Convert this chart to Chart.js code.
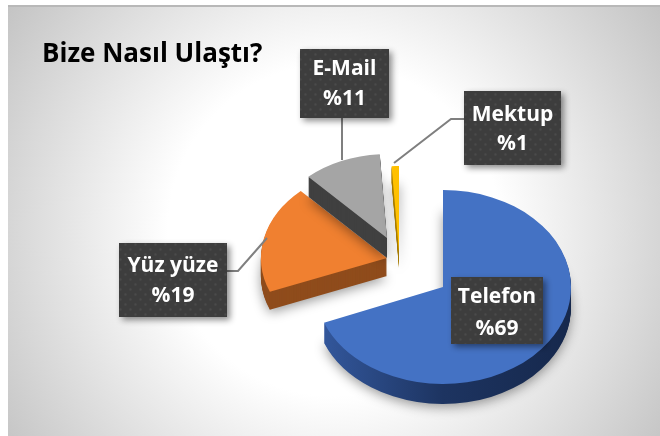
<!DOCTYPE html>
<html>
<head>
<meta charset="utf-8">
<title>Bize Nasıl Ulaştı?</title>
<script src="https://cdn.jsdelivr.net/npm/chart.js@4"></script>
<style>
  html, body { margin: 0; padding: 0; background: #fff; overflow: hidden; }
  #frame {
    position: absolute; left: 8px; top: 5px; width: 652px; height: 431px;
    background: radial-gradient(circle farthest-corner at 50% 52%, #fff 42%, #c4c4c4 100%);
    border-top: 2px solid #b8b8b8;
    box-sizing: border-box;
  }
  canvas { display: block; }
</style>
</head>
<body>
<div id="frame"><canvas id="pie" width="652" height="429"></canvas></div>
<script>
// Veriler
var titleText = 'Bize Nasıl Ulaştı?';
var categories = ['Telefon', 'Yüz yüze', 'E-Mail', 'Mektup'];
var percents = [69, 19, 11, 1];
var topColors = ['#4472c4', '#f08030', '#a5a5a5', '#ffc000'];
var sideColors = ['#2a4a85', '#8f4c1c', '#404040', '#a67c00'];

// Her dilimin ekrandaki yeri (canvas koordinatı): uç noktası ve yarıçapları
var sliceViews = [
  { x: 435, y: 280, rx: 128, ry: 97, depth: 20 },
  { x: 379, y: 251, rx: 126, ry: 92, depth: 18 },
  { x: 379, y: 231, rx: 115, ry: 84, depth: 20 },
  { x: 391, y: 245, rx: 118, ry: 86, depth: 16 }
];

// Etiket kutuları, metin yükseklikleri ve kılavuz çizgileri
var labelBoxes = [
  { x: 443, y: 270, w: 92, h: 67, t1: 20, t2: 52, line: null },
  { x: 111, y: 236, w: 108, h: 74, t1: 23, t2: 53, line: [[219, 264], [230, 264], [259, 231]] },
  { x: 292, y: 42, w: 89, h: 69, t1: 20, t2: 50, line: [[334, 111], [334, 153]] },
  { x: 456, y: 84, w: 97, h: 74, t1: 24, t2: 53, line: [[456, 112], [443, 112], [386, 156]] }
];

function dotPattern() {
  var c = document.createElement('canvas');
  c.width = 10; c.height = 10;
  var p = c.getContext('2d');
  p.fillStyle = '#3d3d3d';
  p.fillRect(0, 0, 10, 10);
  p.fillStyle = '#4a4a4a';
  p.beginPath();
  p.arc(2.5, 2.5, 1.3, 0, Math.PI * 2);
  p.arc(7.5, 7.5, 1.3, 0, Math.PI * 2);
  p.fill();
  return c;
}

function sideFill(ctx, el, i) {
  if (i !== 0) return sideColors[i];
  var r = el.outerRadius;
  var g = ctx.createLinearGradient(el.x - r, 0, el.x + r, 0);
  g.addColorStop(0, '#34599f');
  g.addColorStop(0.5, '#1d3461');
  g.addColorStop(1, '#16284c');
  return g;
}

// Dilimleri basık ve derinlikli çizen eklenti
var pie3d = {
  id: 'pie3d',
  beforeDatasetDraw: function (chart, args) {
    var ctx = chart.ctx;
    var arcs = args.meta.data;
    arcs.forEach(function (el, i) {
      var v = sliceViews[i];
      var saved = el.options;
      var r = el.outerRadius;
      function place(dy) {
        ctx.translate(v.x, v.y + dy);
        ctx.scale(v.rx / r, v.ry / r);
        ctx.translate(-el.x, -el.y);
      }
      // yan yüz
      ctx.save();
      ctx.shadowColor = 'rgba(0,0,0,0.4)';
      ctx.shadowBlur = 12;
      ctx.shadowOffsetY = 3;
      ctx.save();
      place(v.depth);
      el.options = Object.assign({}, saved, { backgroundColor: sideFill(ctx, el, i) });
      el.draw(ctx);
      ctx.restore();
      ctx.restore();
      for (var d = v.depth - 1; d > 0; d--) {
        ctx.save();
        place(d);
        el.draw(ctx);
        ctx.restore();
      }
      // üst yüz
      el.options = saved;
      ctx.save();
      place(0);
      el.draw(ctx);
      ctx.restore();
    });
    return false;
  },
  afterDraw: function (chart) {
    var ctx = chart.ctx;
    var pattern = ctx.createPattern(dotPattern(), 'repeat');
    labelBoxes.forEach(function (b, i) {
      if (b.line) {
        ctx.save();
        ctx.strokeStyle = '#7f7f7f';
        ctx.lineWidth = 2;
        ctx.beginPath();
        b.line.forEach(function (p, k) {
          if (k === 0) ctx.moveTo(p[0], p[1]); else ctx.lineTo(p[0], p[1]);
        });
        ctx.stroke();
        ctx.restore();
      }
      ctx.save();
      ctx.shadowColor = 'rgba(0,0,0,0.45)';
      ctx.shadowBlur = 6;
      ctx.shadowOffsetX = 3;
      ctx.shadowOffsetY = 3;
      ctx.fillStyle = pattern;
      ctx.fillRect(b.x, b.y, b.w, b.h);
      ctx.restore();
      ctx.fillStyle = '#fff';
      ctx.font = 'bold 21px "Open Sans"';
      ctx.textAlign = 'center';
      ctx.textBaseline = 'middle';
      ctx.fillText(categories[i], b.x + b.w / 2, b.y + b.t1);
      ctx.fillText('%' + percents[i], b.x + b.w / 2, b.y + b.t2);
    });
  }
};

var pieChart = new Chart(document.getElementById('pie').getContext('2d'), {
  type: 'pie',
  data: {
    labels: categories,
    datasets: [{
      data: percents,
      backgroundColor: topColors,
      borderWidth: 0
    }]
  },
  options: {
    responsive: false,
    animation: false,
    layout: { padding: { left: 34 } },
    plugins: {
      legend: { display: false },
      tooltip: { enabled: false },
      title: {
        display: true,
        text: titleText,
        align: 'start',
        color: '#000',
        font: { family: '"Open Sans"', size: 26, weight: 'bold' },
        padding: { top: 32, bottom: 10 }
      }
    }
  },
  plugins: [pie3d]
});
</script>
</body>
</html>
